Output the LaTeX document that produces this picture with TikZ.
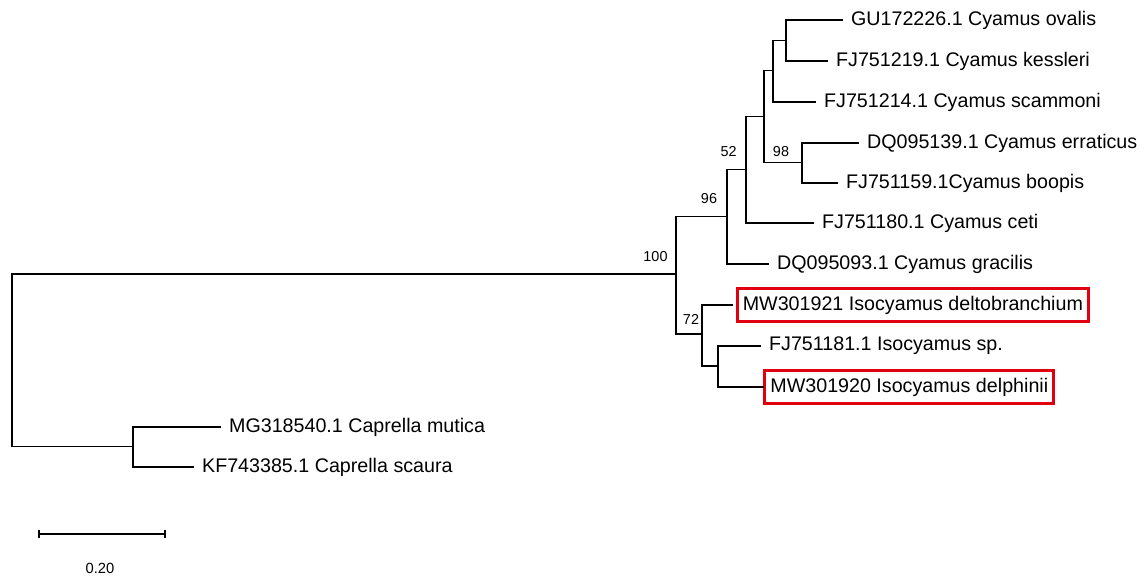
\documentclass[tikz,border=0pt]{standalone}
\usepackage{fontspec}
\setmainfont{Liberation Sans}
\usetikzlibrary{arrows.meta,positioning}
\definecolor{boxred}{RGB}{225,0,15}

\begin{document}
\begin{tikzpicture}[x=0.02cm, y=-0.02cm,
        branch/.style={line width=0.75pt, line cap=rect},
        leaf/.style={anchor=west, inner xsep=5pt, inner ysep=1pt, font=\fontsize{11.2}{13}\selectfont},
        hilite/.style={leaf, draw=boxred, line width=1.7pt, inner xsep=3.2pt, minimum height=18.5pt},
        boot/.style={inner sep=0pt, font=\fontsize{8.2}{9}\selectfont}
    ]
        \useasboundingbox (0,0) rectangle (1146,575);

        % Internal nodes
        \coordinate (root) at (12,360);
        \coordinate (nIn) at (676,274);
        \coordinate (nCy) at (727,216.7);
        \coordinate (nCe) at (746,169.3);
        \coordinate (nA) at (764,116.7);
        \coordinate (nB) at (773,70.7);
        \coordinate (nC) at (786,40.5);
        \coordinate (nEr) at (802,162.7);
        \coordinate (nIso) at (702,334);
        \coordinate (nD) at (718,366);
        \coordinate (nCap) at (133,446.7);

        % Leaves
        \node[leaf] (ova) at (842,20) {GU172226.1 Cyamus ovalis};
        \node[leaf] (kes) at (827,61) {FJ751219.1 Cyamus kessleri};
        \node[leaf] (sca) at (815,102) {FJ751214.1 Cyamus scammoni};
        \node[leaf] (err) at (858,143) {DQ095139.1 Cyamus erraticus};
        \node[leaf] (boo) at (837,183) {FJ751159.1Cyamus boopis};
        \node[leaf] (cet) at (813,223) {FJ751180.1 Cyamus ceti};
        \node[leaf] (gra) at (768,264) {DQ095093.1 Cyamus gracilis};
        \node[hilite] (del) at (735.7,305) {MW301921 Isocyamus deltobranchium};
        \node[leaf] (isp) at (760,346) {FJ751181.1 Isocyamus sp.};
        \node[hilite] (dph) at (763.3,387) {MW301920 Isocyamus delphinii};
        \node[leaf] (mut) at (220,427) {MG318540.1 Caprella mutica};
        \node[leaf] (scu) at (193,467) {KF743385.1 Caprella scaura};

        % Branches
        \draw[branch] (root) |- (nIn);
        \draw[branch] (root) |- (nCap);
        \draw[branch] (nIn) |- (nCy);
        \draw[branch] (nIn) |- (nIso);
        \draw[branch] (nCy) |- (nCe);
        \draw[branch] (nCy) |- (gra.west);
        \draw[branch] (nCe) |- (nA);
        \draw[branch] (nCe) |- (cet.west);
        \draw[branch] (nA) |- (nB);
        \draw[branch] (nA) |- (nEr);
        \draw[branch] (nB) |- (nC);
        \draw[branch] (nB) |- (sca.west);
        \draw[branch] (nC) |- (ova.west);
        \draw[branch] (nC) |- (kes.west);
        \draw[branch] (nEr) |- (err.west);
        \draw[branch] (nEr) |- (boo.west);
        \draw[branch, shorten >=2.2pt] (nIso) |- (del.west);
        \draw[branch] (nIso) |- (nD);
        \draw[branch] (nD) |- (isp.west);
        \draw[branch] (nD) |- (dph.west);
        \draw[branch] (nCap) |- (mut.west);
        \draw[branch] (nCap) |- (scu.west);

        % Bootstrap values
        \node[boot] (b100) at (655.5,257) {100};
        \node[boot] (b96) at (709,199) {96};
        \node[boot] (b52) at (728.7,151.7) {52};
        \node[boot] (b98) at (781,152) {98};
        \node[boot] (b72) at (691,319) {72};

        % Scale bar
        \coordinate (sbL) at (38.3,534);
        \coordinate (sbR) at (165.7,534);
        \draw[branch, line cap=butt, {Bar[width=5pt]}-{Bar[width=5pt]}] (sbL) -- (sbR);
        \node[boot, font=\fontsize{8.4}{9}\selectfont] (sbT) at (100,568) {0.20};

    \end{tikzpicture}
\end{document}
